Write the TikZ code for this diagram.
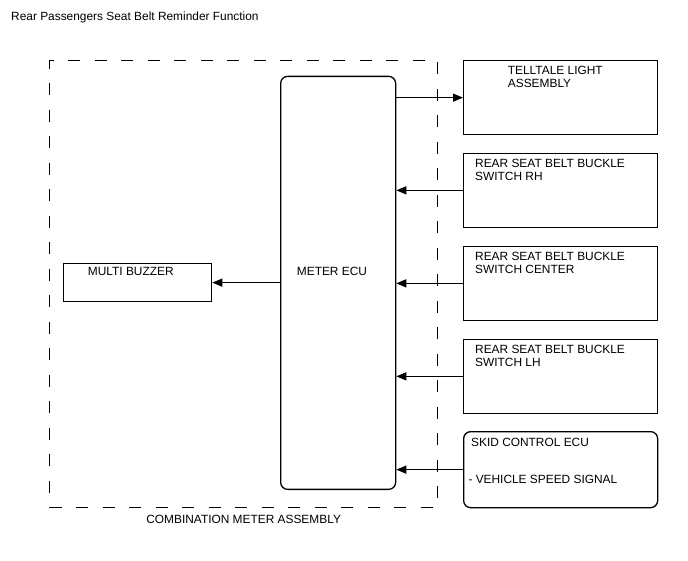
\documentclass[tikz,border=0pt]{standalone}
\usepackage{fontspec}
\setmainfont{Liberation Sans}
\usetikzlibrary{positioning,arrows.meta}

\begin{document}
\begin{tikzpicture}[x=1pt, y=-1pt,
  box/.style={draw, line width=1.3pt, anchor=north west, minimum width=194pt, minimum height=74pt, inner sep=0pt},
  ecubox/.style={draw, line width=1.3pt, rounded corners=7pt, anchor=north west, minimum width=115pt, minimum height=413pt, inner sep=0pt},
  frame/.style={draw, line width=1.3pt, dash pattern=on 12pt off 14.5pt, anchor=north west, minimum width=388pt, minimum height=447pt, inner sep=0pt},
  lbl/.style={font=\fontsize{11.9}{13.3}\selectfont, inner sep=0pt, anchor=base west, align=left},
  arr/.style={-{Triangle[length=10pt,width=8pt]}, line width=1.3pt}
]
\useasboundingbox (0,0) rectangle (688,560);

\node[lbl] (title) at (11,20.5) {Rear Passengers Seat Belt Reminder Function};

% combination meter
\node[frame] (cma) at (49,60) {};
\node[lbl, anchor=north, below=7pt of cma] (cmalbl) {COMBINATION METER ASSEMBLY};
\node[ecubox] (ecu) at (280,75.7) {};
\node[lbl] (eculbl) at (296.7,275.7) {METER ECU};
\node[box, minimum width=148pt, minimum height=38pt] (bz) at (63,263) {};
\node[lbl] (bzlbl) at (87.7,275) {MULTI BUZZER};

% outside parts (base = last line)
\node[box] (tl) at (463,60) {};
\node[lbl] (tllbl) at (507.7,87.6) {TELLTALE LIGHT\\ASSEMBLY};
\node[box] (rh) at (463,152.7) {};
\node[lbl] (rhlbl) at (475,180.4) {REAR SEAT BELT BUCKLE\\SWITCH RH};
\node[box] (ctr) at (463,245.7) {};
\node[lbl] (ctrlbl) at (475,273.4) {REAR SEAT BELT BUCKLE\\SWITCH CENTER};
\node[box] (lh) at (463,338.7) {};
\node[lbl] (lhlbl) at (475,366.4) {REAR SEAT BELT BUCKLE\\SWITCH LH};
\node[box, rounded corners=7pt, minimum height=76pt] (skid) at (463,431) {};
\node[lbl] (skidlbl) at (471,446) {SKID CONTROL ECU};
\node[lbl] (spdlbl) at (468.3,483.3) {- VEHICLE SPEED SIGNAL};

\draw[arr] (ecu.east |- tl.west) -- (tl.west);
\draw[arr] (rh.west) -- (rh.west -| ecu.east);
\draw[arr] (ctr.west) -- (ctr.west -| ecu.east);
\draw[arr] (lh.west) -- (lh.west -| ecu.east);
\draw[arr] (skid.west) -- (skid.west -| ecu.east);
\draw[arr] (ecu.west |- bz.east) -- (bz.east);
\end{tikzpicture}
\end{document}
